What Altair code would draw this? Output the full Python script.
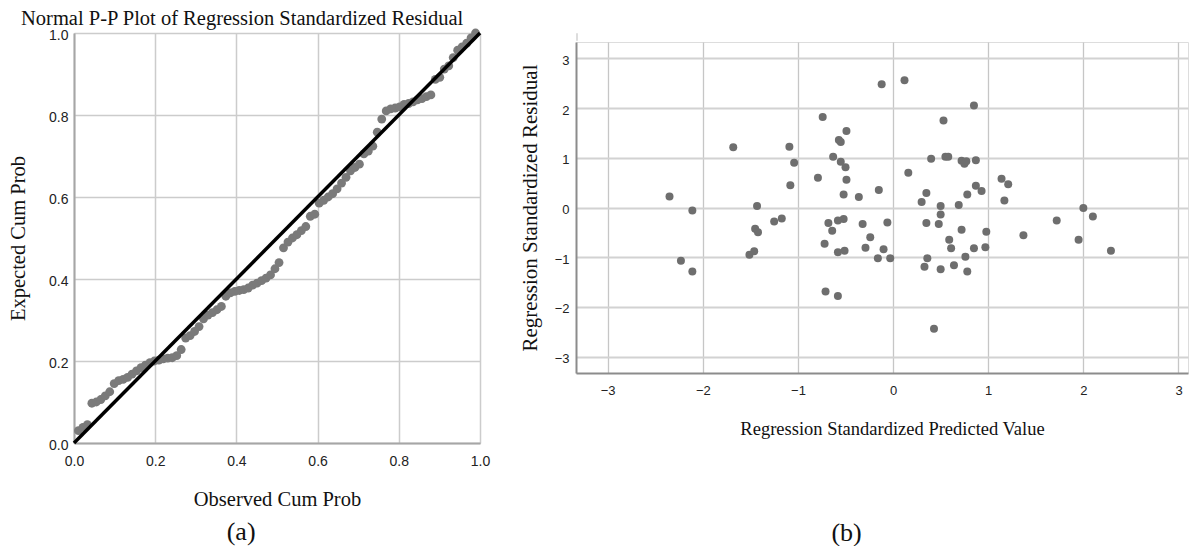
import altair as alt
import pandas as pd

# ---------------- panel (a): Normal P-P plot ----------------
observed_cum_prob = [
    0.011, 0.022, 0.033, 0.044, 0.055, 0.066, 0.077, 0.088, 0.099, 0.110,
    0.121, 0.132, 0.143, 0.154, 0.165, 0.176, 0.187, 0.198, 0.209, 0.220,
    0.231, 0.242, 0.253, 0.264, 0.275, 0.286, 0.297, 0.308, 0.319, 0.330,
    0.341, 0.352, 0.363, 0.374, 0.385, 0.396, 0.407, 0.418, 0.429, 0.440,
    0.451, 0.462, 0.473, 0.484, 0.495, 0.505, 0.516, 0.527, 0.538, 0.549,
    0.560, 0.571, 0.582, 0.593, 0.604, 0.615, 0.626, 0.637, 0.648, 0.659,
    0.670, 0.681, 0.692, 0.703, 0.714, 0.725, 0.736, 0.747, 0.758, 0.769,
    0.780, 0.791, 0.802, 0.813, 0.824, 0.835, 0.846, 0.857, 0.868, 0.879,
    0.890, 0.901, 0.912, 0.923, 0.934, 0.945, 0.956, 0.967, 0.978, 0.989,
]
expected_cum_prob = [
    0.030, 0.038, 0.045, 0.097, 0.100, 0.106, 0.115, 0.125, 0.145, 0.152,
    0.155, 0.160, 0.168, 0.176, 0.184, 0.190, 0.196, 0.200, 0.202, 0.205,
    0.207, 0.208, 0.213, 0.228, 0.256, 0.262, 0.272, 0.284, 0.303, 0.312,
    0.318, 0.325, 0.333, 0.358, 0.366, 0.370, 0.372, 0.374, 0.378, 0.385,
    0.390, 0.396, 0.402, 0.410, 0.425, 0.440, 0.476, 0.490, 0.500, 0.508,
    0.518, 0.528, 0.553, 0.558, 0.585, 0.592, 0.600, 0.608, 0.620, 0.634,
    0.648, 0.664, 0.672, 0.680, 0.705, 0.712, 0.724, 0.758, 0.790, 0.810,
    0.815, 0.817, 0.820, 0.826, 0.828, 0.832, 0.837, 0.840, 0.845, 0.849,
    0.887, 0.892, 0.912, 0.920, 0.940, 0.958, 0.966, 0.975, 0.988, 1.000,
]
diag_x = [0.0, 1.0]
diag_y = [0.0, 1.0]
ticks_a = [0.0, 0.2, 0.4, 0.6, 0.8, 1.0]

# ---------------- panel (b): residual scatter ----------------
std_predicted = [
    -2.35, -2.11, -2.23, -2.11, -1.68, -1.43, -1.45, -1.42, -1.51, -1.46,
    -1.25, -1.17, -1.09, -1.04, -1.08, -0.79, -0.74, -0.68, -0.64, -0.72,
    -0.71, -0.58, -0.63, -0.57, -0.55, -0.55, -0.50, -0.49, -0.49, -0.52,
    -0.52, -0.58, -0.58, -0.51, -0.36, -0.32, -0.24, -0.29, -0.15, -0.12,
    -0.06, -0.10, -0.16, -0.03, 0.12, 0.16, 0.30, 0.35, 0.35, 0.40,
    0.36, 0.33, 0.43, 0.50, 0.50, 0.48, 0.53, 0.55, 0.58, 0.50,
    0.59, 0.61, 0.64, 0.69, 0.72, 0.72, 0.75, 0.77, 0.76, 0.78,
    0.78, 0.85, 0.87, 0.87, 0.93, 0.85, 0.98, 0.97, 1.14, 1.21,
    1.17, 1.37, 1.72, 2.00, 2.10, 1.95, 2.29,
]
std_residual = [
    0.22, -0.06, -1.07, -1.29, 1.21, 0.03, -0.43, -0.50, -0.95, -0.88,
    -0.28, -0.22, 1.22, 0.90, 0.45, 0.60, 1.82, -0.31, -0.47, -0.73,
    -1.69, -1.78, 1.02, 1.36, 1.32, 0.92, 0.81, 1.54, 0.56, 0.26,
    -0.23, -0.26, -0.90, -0.87, 0.21, -0.33, -0.60, -0.81, 0.35, 2.48,
    -0.30, -0.84, -1.02, -1.02, 2.56, 0.70, 0.11, 0.29, -0.31, 0.98,
    -1.02, -1.19, -2.44, 0.03, -0.14, -0.33, 1.75, 1.02, 1.02, -1.24,
    -0.65, -0.82, -1.16, 0.05, -0.45, 0.94, 0.88, 0.93, -0.99, -1.29,
    0.26, 2.05, 0.95, 0.44, 0.33, -0.82, -0.49, -0.80, 0.58, 0.47,
    0.14, -0.56, -0.26, -0.01, -0.18, -0.65, -0.87,
]
ticks_b = [-3, -2, -1, 0, 1, 2, 3]

SERIF = "Liberation Serif"
SANS = "Liberation Sans"

pp_df = pd.DataFrame({"obs": observed_cum_prob, "exp": expected_cum_prob})
diag_df = pd.DataFrame({"dx": diag_x, "dy": diag_y})
res_df = pd.DataFrame({"pred": std_predicted, "resid": std_residual})


def axis_a(title, is_x):
    return alt.Axis(
        values=ticks_a, format=".1f", title=title,
        titleFont=SERIF, titleFontSize=20.5, titleFontWeight="normal",
        titleColor="#111111", titlePadding=21 if is_x else 20,
        labelFont=SANS, labelFontSize=14, labelColor="#222222",
        labelPadding=11 if is_x else 6, labelFlush=False,
        labelOffset=0 if is_x else 2,
        ticks=False, tickSize=0,
        domainColor="#a6a6a6", domainWidth=2,
        gridColor="#cccccc", gridWidth=1.5,
    )


xa = alt.X("obs:Q", scale=alt.Scale(domain=[0, 1], nice=False, zero=False),
           axis=axis_a("Observed Cum Prob", True))
ya = alt.Y("exp:Q", scale=alt.Scale(domain=[0, 1], nice=False, zero=False),
           axis=axis_a("Expected Cum Prob", False))

pts_a = alt.Chart(pp_df).mark_circle(size=78, color="#7a7a7a", opacity=1).encode(x=xa, y=ya)
line_a = alt.Chart(diag_df).mark_line(color="#000000", strokeWidth=3.5).encode(
    x=alt.X("dx:Q", scale=alt.Scale(domain=[0, 1], nice=False, zero=False)),
    y=alt.Y("dy:Q", scale=alt.Scale(domain=[0, 1], nice=False, zero=False)),
)

panel_a = alt.layer(pts_a, line_a).properties(
    width=406, height=410,
    title=alt.TitleParams(
        "Normal P-P Plot of Regression Standardized Residual",
        font=SERIF, fontSize=20.5, fontWeight="normal", color="#111111",
        anchor="start", frame="group", dx=-53, offset=-3,
    ),
)

cell_a = alt.vconcat(panel_a).properties(
    title=alt.TitleParams("(a)", orient="bottom", font=SERIF, fontSize=26,
                          fontWeight="normal", color="#111111", anchor="middle",
                          dx=-8, offset=9)
)


def axis_b(title, is_x):
    return alt.Axis(
        values=ticks_b, format="d", title=title,
        titleFont=SERIF, titleFontSize=18.5 if is_x else 21, titleFontWeight="normal",
        titleColor="#111111", titlePadding=22 if is_x else 14,
        labelFont=SANS, labelFontSize=13, labelColor="#222222",
        labelPadding=11 if is_x else 7, labelFlush=False,
        labelOffset=0 if is_x else 2,
        ticks=False, tickSize=0,
        domainColor="#8c8c8c", domainWidth=2,
        gridColor="#c6c6c6" if is_x else "#d2d2d2",
        gridWidth=1.3 if is_x else 2,
        **({"titleX": 316} if is_x else {}),
    )


panel_b = alt.Chart(res_df).mark_circle(size=64, color="#6e6e6e", opacity=1).encode(
    x=alt.X("pred:Q", scale=alt.Scale(domain=[-3.333, 3.1], nice=False, zero=False),
            axis=axis_b("Regression Standardized Predicted Value", True)),
    y=alt.Y("resid:Q", scale=alt.Scale(domain=[-3.33, 3.33], nice=False, zero=False),
            axis=axis_b("Regression Standardized Residual", False)),
).properties(width=612, height=331)

spacer = alt.Chart(pd.DataFrame({"s": [0]})).mark_point(size=0, opacity=0).encode(
    x=alt.X("s:Q", axis=None), y=alt.Y("s:Q", axis=None)
).properties(width=1, height=7)

cell_b = alt.vconcat(spacer, panel_b, spacing=0).resolve_scale(
    x="independent", y="independent"
).properties(
    title=alt.TitleParams("(b)", orient="bottom", font=SERIF, fontSize=26,
                          fontWeight="normal", color="#111111", anchor="middle",
                          dx=-7, offset=82)
)

chart = alt.hconcat(cell_a, cell_b, spacing=27).properties(
    padding={"left": 0, "top": 0, "right": 0, "bottom": 0}
).configure_view(stroke=None).configure(background="white")

chart.save("out.html", embed_options={"renderer": "svg", "actions": False})
